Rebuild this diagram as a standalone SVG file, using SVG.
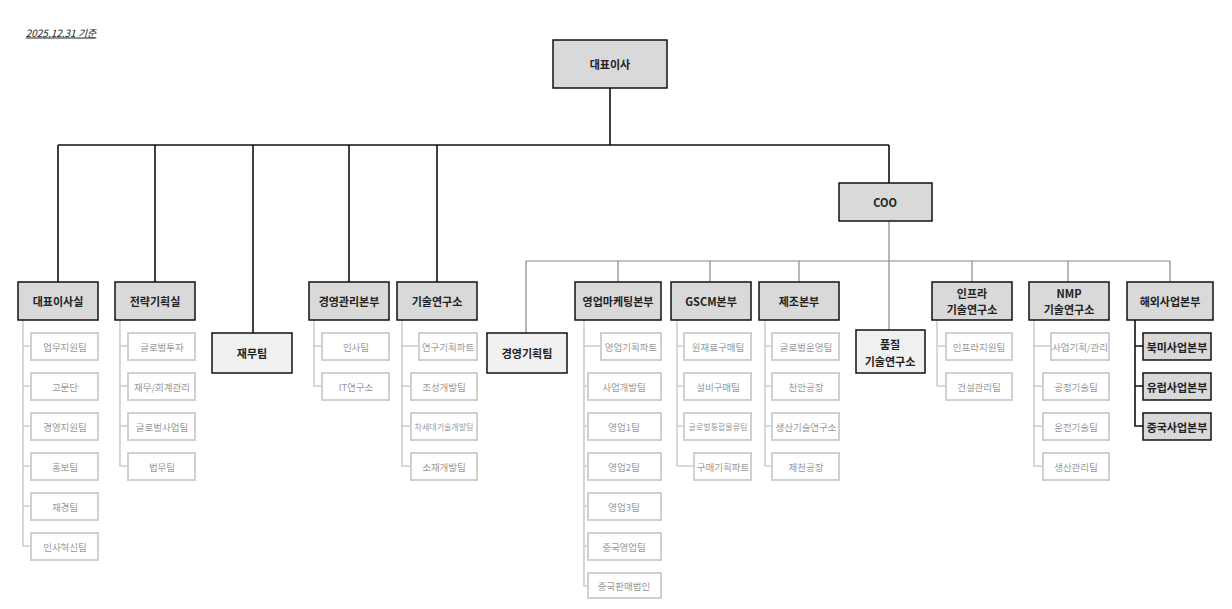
<svg xmlns="http://www.w3.org/2000/svg" width="1232" height="609" viewBox="0 0 1232 609">
<style>
text{font-family:"Noto Sans CJK KR","Noto Sans",sans-serif;text-anchor:middle;dominant-baseline:central}
.p rect{fill:#d9d9d9;stroke:#111;stroke-width:1.5}
.p text{font-size:11px;font-weight:bold;fill:#222}
.l rect{fill:#f0f0f0;stroke:#111;stroke-width:1.5}
.l text{font-size:11px;font-weight:bold;fill:#222}
.c rect{fill:#fff;stroke:#d0d0d0;stroke-width:2}
.c text{font-size:9.5px;fill:#999}
.k{stroke:#111;stroke-width:1.6;fill:none}
.g{stroke:#888;stroke-width:1.2;fill:none}
.t{stroke:#ccc;stroke-width:1.5;fill:none}
</style>
<text x="61" y="32" style="font-size:10px;font-style:italic;text-decoration:underline;fill:#222">2025.12.31 기준</text>
<g id="connectors">
<path class="k" d="M610 88V145M58 145H889M58 145V282M155 145V282M253 145V333M349 145V282M437 145V282M889 145V183"/>
<path class="g" d="M889 221V330M526 261H1170M526 261V333M618 261V282M710 261V282M799 261V282M972 261V282M1068 261V282M1170 261V282"/>
<path class="t" d="M23 320V546H31M23 346H31M23 386H31M23 426H31M23 466H31M23 506H31"/>
<path class="t" d="M120 320V466H128M120 346H128M120 386H128M120 426H128"/>
<path class="t" d="M314 320V386H322M314 346H322"/>
<path class="t" d="M402 320V466H411M402 346H419M402 386H411M402 426H411"/>
<path class="t" d="M584 320V586H588M584 346H601M584 386H588M584 426H588M584 466H588M584 506H588M584 546H588"/>
<path class="t" d="M677 320V466H694M677 346H684M677 386H684M677 426H684"/>
<path class="t" d="M765 320V466H772M765 346H772M765 386H772M765 426H772"/>
<path class="t" d="M937 320V386H946M937 346H946"/>
<path class="t" d="M1034 320V466H1043M1034 346H1051M1034 386H1043M1034 426H1043"/>
<path class="k" d="M1135 320V426H1143M1135 346H1143M1135 386H1143"/>
</g>
<g id="ceo" class="p"><rect x="553" y="40" width="114" height="48"/><text x="610" y="64">대표이사</text></g>
<g id="coo" class="p"><rect x="839" y="183" width="93" height="38"/><text x="885" y="202">COO</text></g>
<g id="n1" class="p"><rect x="18" y="282" width="80" height="38"/><text x="58" y="301">대표이사실</text></g>
<g id="n1c" class="c">
<rect x="31" y="333" width="67" height="27"/><text x="65" y="346.5">업무지원팀</text>
<rect x="31" y="373" width="67" height="27"/><text x="65" y="386.5">고문단</text>
<rect x="31" y="413" width="67" height="27"/><text x="65" y="426.5">경영지원팀</text>
<rect x="31" y="453" width="67" height="27"/><text x="65" y="466.5">홍보팀</text>
<rect x="31" y="493" width="67" height="27"/><text x="65" y="506.5">재경팀</text>
<rect x="31" y="533" width="67" height="27"/><text x="65" y="546.5">인사혁신팀</text>
</g>
<g id="n2" class="p"><rect x="115" y="282" width="80" height="38"/><text x="155" y="301">전략기획실</text></g>
<g id="n2c" class="c">
<rect x="128" y="333" width="67" height="27"/><text x="162" y="346.5">글로벌투자</text>
<rect x="128" y="373" width="67" height="27"/><text x="162" y="386.5">재무/회계관리</text>
<rect x="128" y="413" width="67" height="27"/><text x="162" y="426.5">글로벌사업팀</text>
<rect x="128" y="453" width="67" height="27"/><text x="162" y="466.5">법무팀</text>
</g>
<g id="n3" class="l"><rect x="212" y="333" width="80" height="40"/><text x="252" y="353">재무팀</text></g>
<g id="n4" class="p"><rect x="309" y="282" width="80" height="38"/><text x="349" y="301">경영관리본부</text></g>
<g id="n4c" class="c">
<rect x="322" y="333" width="67" height="27"/><text x="356" y="346.5">인사팀</text>
<rect x="322" y="373" width="67" height="27"/><text x="356" y="386.5">IT연구소</text>
</g>
<g id="n5" class="p"><rect x="397" y="282" width="80" height="38"/><text x="437" y="301">기술연구소</text></g>
<g id="n5c" class="c">
<rect x="419" y="333" width="58" height="27"/><text x="448" y="346.5">연구기획파트</text>
<rect x="411" y="373" width="66" height="27"/><text x="444" y="386.5">조성개발팀</text>
<rect x="411" y="413" width="66" height="27"/><text x="444" y="426.5" style="font-size:8px">차세대기술개발팀</text>
<rect x="411" y="453" width="66" height="27"/><text x="444" y="466.5">소재개발팀</text>
</g>
<g id="n6" class="l"><rect x="487" y="333" width="80" height="40"/><text x="527" y="353">경영기획팀</text></g>
<g id="n7" class="p"><rect x="575" y="282" width="86" height="38"/><text x="618" y="301">영업마케팅본부</text></g>
<g id="n7c" class="c">
<rect x="601" y="333" width="60" height="27"/><text x="631" y="346.5">영업기획파트</text>
<rect x="588" y="373" width="73" height="27"/><text x="624" y="386.5">사업개발팀</text>
<rect x="588" y="413" width="73" height="27"/><text x="624" y="426.5">영업1팀</text>
<rect x="588" y="453" width="73" height="27"/><text x="624" y="466.5">영업2팀</text>
<rect x="588" y="493" width="73" height="27"/><text x="624" y="506.5">영업3팀</text>
<rect x="588" y="533" width="73" height="27"/><text x="624" y="546.5">중국영업팀</text>
<rect x="588" y="573" width="73" height="25"/><text x="624" y="585.5">중국판매법인</text>
</g>
<g id="n8" class="p"><rect x="671" y="282" width="80" height="38"/><text x="711" y="301">GSCM본부</text></g>
<g id="n8c" class="c">
<rect x="684" y="333" width="67" height="27"/><text x="718" y="346.5">원재료구매팀</text>
<rect x="684" y="373" width="67" height="27"/><text x="718" y="386.5">설비구매팀</text>
<rect x="684" y="413" width="67" height="27"/><text x="718" y="426.5" style="font-size:8px">글로벌통합물류팀</text>
<rect x="694" y="453" width="57" height="27"/><text x="723" y="466.5">구매기획파트</text>
</g>
<g id="n9" class="p"><rect x="759" y="282" width="80" height="38"/><text x="799" y="301">제조본부</text></g>
<g id="n9c" class="c">
<rect x="772" y="333" width="67" height="27"/><text x="806" y="346.5">글로벌운영팀</text>
<rect x="772" y="373" width="67" height="27"/><text x="806" y="386.5">천안공장</text>
<rect x="772" y="413" width="67" height="27"/><text x="806" y="426.5">생산기술연구소</text>
<rect x="772" y="453" width="67" height="27"/><text x="806" y="466.5">제천공장</text>
</g>
<g id="n10" class="l"><rect x="856" y="330" width="69" height="43"/><text x="890" y="344">품질</text><text x="890" y="361">기술연구소</text></g>
<g id="n11" class="p"><rect x="932" y="282" width="80" height="38"/><text x="972" y="293">인프라</text><text x="972" y="309">기술연구소</text></g>
<g id="n11c" class="c">
<rect x="946" y="333" width="66" height="27"/><text x="979" y="346.5">인프라지원팀</text>
<rect x="946" y="373" width="66" height="27"/><text x="979" y="386.5">건설관리팀</text>
</g>
<g id="n12" class="p"><rect x="1029" y="282" width="80" height="38"/><text x="1069" y="293">NMP</text><text x="1069" y="309">기술연구소</text></g>
<g id="n12c" class="c">
<rect x="1051" y="333" width="58" height="27"/><text x="1080" y="346.5">사업기획/관리</text>
<rect x="1043" y="373" width="66" height="27"/><text x="1076" y="386.5">공정기술팀</text>
<rect x="1043" y="413" width="66" height="27"/><text x="1076" y="426.5">운전기술팀</text>
<rect x="1043" y="453" width="66" height="27"/><text x="1076" y="466.5">생산관리팀</text>
</g>
<g id="n13" class="p"><rect x="1127" y="282" width="86" height="38"/><text x="1170" y="301">해외사업본부</text></g>
<g id="n13c" class="p">
<rect x="1143" y="333" width="68" height="27"/><text x="1177" y="346.5">북미사업본부</text>
<rect x="1143" y="373" width="68" height="27"/><text x="1177" y="386.5">유럽사업본부</text>
<rect x="1143" y="413" width="68" height="27"/><text x="1177" y="426.5">중국사업본부</text>
</g>
</svg>
